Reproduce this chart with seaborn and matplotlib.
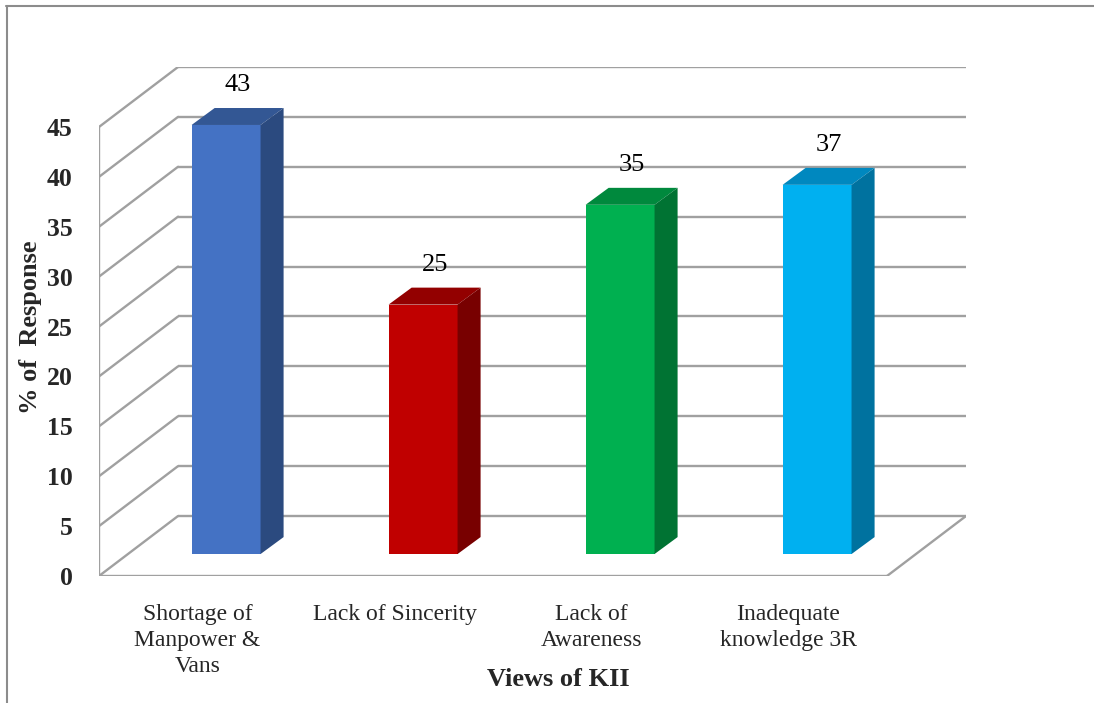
import matplotlib
matplotlib.use("Agg")
import matplotlib.pyplot as plt
from matplotlib.lines import Line2D
import pandas as pd
import seaborn as sns

# ---- data -------------------------------------------------------------
categories = ["Shortage of\nManpower &\nVans", "Lack of Sincerity",
              "Lack of\nAwareness", "Inadequate\nknowledge 3R"]
responses = [43, 25, 35, 37]
y_ticks = [0, 5, 10, 15, 20, 25, 30, 35, 40, 45]

front_colors = ["#4472C4", "#C00000", "#00B050", "#00B0F0"]
top_colors = ["#335794", "#930000", "#00893D", "#0088BF"]
side_colors = ["#2B4A7F", "#780000", "#007333", "#00729F"]

# ---- style ------------------------------------------------------------
sns.set_theme(style="white")
plt.rcParams["font.family"] = ["Liberation Serif", "DejaVu Serif"]

W, H = 1094, 703
fig = plt.figure(figsize=(W / 100, H / 100), dpi=100)
fig.patch.set_facecolor("white")

# plotting box in pixel layout (front plane + receding depth)
left_px, right_px, bottom_px, top_px = 99, 966, 576, 67
ax = fig.add_axes([left_px / W, 1 - bottom_px / H,
                   (right_px - left_px) / W, (bottom_px - top_px) / H])

# depth of the pseudo-3D box, in (category units, value units)
DEPTH_X, DEPTH_Y = 0.401, 6.01
# offset of the bars' front faces into the box, and bar thickness
BAR_X0, BAR_Y0 = 0.145, 2.2
BAR_DX, BAR_DY = 0.117, 1.70
BAR_W = 0.35
GRID = "#A0A0A0"

df = pd.DataFrame({"view": categories, "response": responses})
sns.barplot(data=df, x="view", y="response", hue="view",
            palette=front_colors, width=BAR_W, saturation=1,
            legend=False, ax=ax, zorder=3, linewidth=0)

x_lo, x_hi = -0.5, len(categories) - 0.5

# back wall gridlines and side wall diagonals
for v in y_ticks:
    ax.plot([x_lo + DEPTH_X, x_hi + DEPTH_X], [v + DEPTH_Y, v + DEPTH_Y],
            color=GRID, lw=1.7, zorder=1, solid_capstyle="butt")
    ax.plot([x_lo, x_lo + DEPTH_X], [v, v + DEPTH_Y],
            color=GRID, lw=1.7, zorder=1)
# front edge of the side wall and of the floor
ax.plot([x_lo, x_lo], [0, y_ticks[-1]], color=GRID, lw=1.7, zorder=1)
ax.plot([x_lo, x_hi], [0, 0], color=GRID, lw=1.7, zorder=1)
ax.plot([x_hi, x_hi + DEPTH_X], [0, DEPTH_Y], color=GRID, lw=1.7, zorder=1)

# turn the flat bars into prisms
bars = sorted(ax.patches, key=lambda p: p.get_x())
for i, p in enumerate(bars):
    x0 = p.get_x() + BAR_X0
    val = p.get_height()
    p.set_x(x0)
    p.set_y(BAR_Y0)
    x1 = x0 + p.get_width()
    y0, y1 = BAR_Y0, BAR_Y0 + val
    ax.fill([x0, x1, x1 + BAR_DX, x0 + BAR_DX],
            [y1, y1, y1 + BAR_DY, y1 + BAR_DY],
            color=top_colors[i], lw=0, zorder=3)
    ax.fill([x1, x1 + BAR_DX, x1 + BAR_DX, x1],
            [y0, y0 + BAR_DY, y1 + BAR_DY, y1],
            color=side_colors[i], lw=0, zorder=3)
    ax.text(x0 + p.get_width() / 2 + BAR_DX / 2, y1 + BAR_DY + 2.3,
            f"{val:g}", ha="center", va="center", fontsize=19,
            color="black", zorder=4)

ax.set_xlim(x_lo, x_hi + DEPTH_X)
ax.set_ylim(0, y_ticks[-1] + DEPTH_Y)
ax.set_yticks(y_ticks)
ax.set_yticklabels([str(t) for t in y_ticks], fontweight="bold", fontsize=18.5)
ax.tick_params(axis="y", length=0, pad=19)
ax.tick_params(axis="x", length=0, pad=20, labelsize=17)
for lbl in ax.get_xticklabels():
    lbl.set_linespacing(1.32)
ax.grid(False)
for s in ax.spines.values():
    s.set_visible(False)
ax.set_facecolor("none")

ax.set_xlabel("Views of KII", fontsize=19, fontweight="bold", va="center")
ax.xaxis.set_label_coords((558 - left_px) / (right_px - left_px),
                          (bottom_px - 680) / (bottom_px - top_px))
ax.set_ylabel("% of  Response", fontsize=19, fontweight="bold", va="center")
ax.yaxis.set_label_coords((30 - left_px) / (right_px - left_px),
                          (bottom_px - 327) / (bottom_px - top_px))

# outer frame (top and left edges)
fig.add_artist(Line2D([6 / W, 1], [1 - 6 / H, 1 - 6 / H],
                      transform=fig.transFigure, color="#8C8C8C", lw=1.5))
fig.add_artist(Line2D([7 / W, 7 / W], [0, 1 - 6 / H],
                      transform=fig.transFigure, color="#8C8C8C", lw=1.5))

fig.savefig("out.png", dpi=100)
